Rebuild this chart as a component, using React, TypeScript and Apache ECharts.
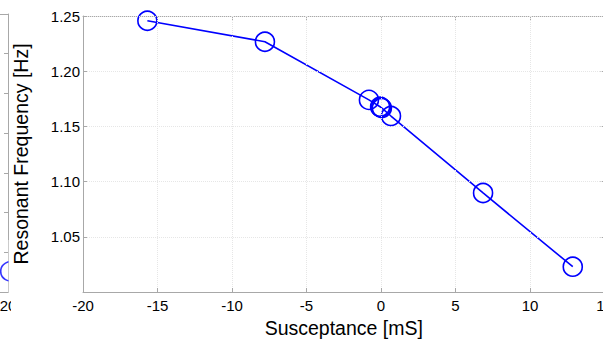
import React, { useEffect, useRef } from "react";
import * as echarts from "echarts";

// Main panel data
const susceptance = [-15.68, -7.79, -0.81, -0.06, 0.0, 0.06, 0.67, 6.85, 12.87];
const frequency = [1.2457, 1.2267, 1.174, 1.1678, 1.1672, 1.1666, 1.1594, 1.0897, 1.0229];

// Axis setup
const xMin = -20;
const xMax = 15;
const xStep = 5;
const yMin = 1.0;
const yMax = 1.25;
const yStep = 0.05;

// Partial neighbouring panel (cropped at left edge)
const leftPanelX = [20.25];
const leftPanelY = [1.026];
const leftXMin = -15;
const leftXMax = 20;
const leftYMin = 1.0;
const leftYMax = 1.35;

const FONT = "'Liberation Sans', Arial, Helvetica, sans-serif";
const AXIS_GRAY = "#a8a8a8";
const GRID_GRAY = "#e6e6e6";
const BLUE = "#0000ff";

export default function App() {
  const ref = useRef<HTMLDivElement>(null);
  useEffect(() => {
    if (!ref.current) return;
    const chart = echarts.init(ref.current, undefined, { renderer: "svg" });
    const axisLine = { show: true, onZero: false, lineStyle: { color: AXIS_GRAY, width: 1 } };
    const tick = { show: true, inside: true, length: 4, lineStyle: { color: AXIS_GRAY } };
    const split = { show: true, lineStyle: { color: GRID_GRAY, type: "dotted" as const, width: 1 } };
    chart.setOption({
      animation: false,
      backgroundColor: "#ffffff",
      textStyle: { fontFamily: FONT },
      grid: [
        { left: 83, top: 16, width: 521.5, height: 276, containLabel: false, outerBoundsMode: "none" },
        { left: -300, top: 14, width: 308, height: 278, containLabel: false, outerBoundsMode: "none" },
      ],
      xAxis: [
        {
          gridIndex: 0,
          type: "value",
          min: xMin,
          max: xMax,
          interval: xStep,
          position: "bottom",
          axisLine,
          axisTick: tick,
          splitLine: split,
          axisLabel: { color: "#000", fontSize: 15, fontFamily: FONT, margin: 6 },
          name: "Susceptance [mS]",
          nameLocation: "middle",
          nameGap: 23,
          nameTextStyle: { color: "#000", fontSize: 19.5, fontFamily: FONT, verticalAlign: "top" },
          z: 10,
        },
        {
          gridIndex: 0,
          type: "value",
          min: xMin,
          max: xMax,
          interval: xStep,
          position: "top",
          axisLine,
          axisTick: tick,
          splitLine: { show: false },
          axisLabel: { show: false },
        },
        {
          gridIndex: 1,
          type: "value",
          min: leftXMin,
          max: leftXMax,
          interval: 5,
          position: "bottom",
          axisLine,
          axisTick: tick,
          splitLine: { show: false },
          axisLabel: {
            color: "#000",
            fontSize: 15,
            fontFamily: FONT,
            margin: 6,
            formatter: (v: number) => (v === leftXMax ? String(v) : ""),
          },
        },
        {
          gridIndex: 1,
          type: "value",
          min: leftXMin,
          max: leftXMax,
          interval: 5,
          position: "top",
          axisLine,
          axisTick: tick,
          splitLine: { show: false },
          axisLabel: { show: false },
        },
      ],
      yAxis: [
        {
          gridIndex: 0,
          type: "value",
          min: yMin,
          max: yMax,
          interval: yStep,
          position: "left",
          axisLine,
          axisTick: tick,
          splitLine: split,
          axisLabel: {
            color: "#000",
            fontSize: 15,
            fontFamily: FONT,
            margin: 3,
            showMinLabel: false,
            formatter: (v: number) => v.toFixed(2),
          },
          name: "Resonant Frequency [Hz]",
          nameLocation: "middle",
          nameGap: 52,
          nameTextStyle: { color: "#000", fontSize: 19.5, fontFamily: FONT },
          z: 10,
        },
        {
          gridIndex: 0,
          type: "value",
          min: yMin,
          max: yMax,
          interval: yStep,
          position: "right",
          axisLine,
          axisTick: tick,
          splitLine: { show: false },
          axisLabel: { show: false },
        },
        {
          gridIndex: 1,
          type: "value",
          min: leftYMin,
          max: leftYMax,
          interval: 0.05,
          position: "right",
          axisLine,
          axisTick: tick,
          splitLine: { show: false },
          axisLabel: { show: false },
        },
        {
          gridIndex: 1,
          type: "value",
          min: leftYMin,
          max: leftYMax,
          interval: 0.05,
          position: "left",
          axisLine,
          axisTick: tick,
          splitLine: { show: false },
          axisLabel: { show: false },
        },
      ],
      series: [
        {
          type: "line",
          xAxisIndex: 0,
          yAxisIndex: 0,
          data: susceptance.map((x, i) => [x, frequency[i]]),
          symbol: "circle",
          symbolSize: 19,
          showAllSymbol: true,
          clip: false,
          lineStyle: { color: BLUE, width: 1.6 },
          itemStyle: { color: "rgba(0,0,0,0)", borderColor: BLUE, borderWidth: 1.6 },
          z: 3,
        },
        {
          type: "scatter",
          xAxisIndex: 2,
          yAxisIndex: 2,
          data: leftPanelX.map((x, i) => [x, leftPanelY[i]]),
          symbol: "circle",
          symbolSize: 19,
          clip: false,
          itemStyle: { color: "rgba(0,0,0,0)", borderColor: BLUE, borderWidth: 1.6 },
          z: 2,
        },
      ],
      graphic: [
        {
          type: "rect",
          shape: { x: 8.6, y: 240, width: 40, height: 52 },
          style: { fill: "#ffffff" },
          z: 5,
          silent: true,
        },
        {
          type: "rect",
          shape: { x: 11, y: 294, width: 40, height: 24 },
          style: { fill: "#ffffff" },
          z: 5,
          silent: true,
        },
      ],
    });
    return () => chart.dispose();
  }, []);
  return (
    <div
      ref={ref}
      style={{ position: "fixed", left: 0, top: 0, width: 603, height: 341, background: "#fff" }}
    />
  );
}
